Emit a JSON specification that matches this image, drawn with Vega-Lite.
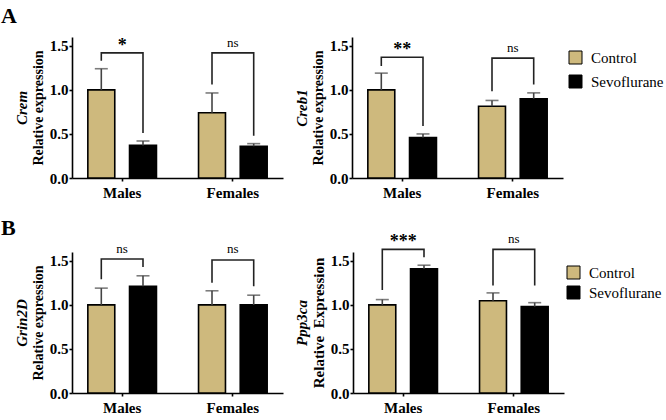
{
  "$schema": "https://vega.github.io/schema/vega-lite/v6.json",
  "background": "white",
  "padding": {"left": 1, "top": 4, "right": 0, "bottom": 0},
  "config": {
    "view": {"stroke": null},
    "font": "Liberation Serif",
    "text": {"font": "Liberation Serif", "color": "black"},
    "style": {"guide-label": {"font": "Liberation Serif"}, "guide-title": {"font": "Liberation Serif"}},
    "axis": {"grid": false, "domainColor": "black", "domainWidth": 1.6, "tickColor": "black", "tickWidth": 1.6, "tickSize": 3, "labelPadding": 1, "labelFont": "Liberation Serif", "labelFontWeight": "bold", "labelFontSize": 15, "labelColor": "black", "titleFont": "Liberation Serif", "titleFontWeight": "bold", "titleColor": "black"},
    "legend": {"orient": "right", "offset": 5, "symbolType": "square", "symbolSize": 169, "symbolStrokeColor": "black", "symbolStrokeWidth": 1, "labelFont": "Liberation Serif", "labelFontSize": 15, "labelColor": "black", "rowPadding": 7, "padding": 0, "labelOffset": 8, "titleFontSize": 11, "titlePadding": 2},
    "title": {"font": "Liberation Serif", "fontWeight": "bold", "fontSize": 22, "color": "black", "anchor": "start", "frame": "bounds"}
  },
  "spacing": 16,
  "resolve": {"scale": {"color": "independent"}, "legend": {"color": "independent"}},
  "vconcat": [
    {
      "title": {"text": "A", "dx": -13, "offset": 9},
      "spacing": 11,
      "hconcat": [
        {
          "width": 211, "height": 141,
          "data": {"values": [
            {"sex": "Males", "group": "Control", "mean": 1.0, "upper": 1.24},
            {"sex": "Males", "group": "Sevoflurane", "mean": 0.37, "upper": 0.42},
            {"sex": "Females", "group": "Control", "mean": 0.74, "upper": 0.965},
            {"sex": "Females", "group": "Sevoflurane", "mean": 0.36, "upper": 0.39}
          ]},
          "layer": [
            {"mark": {"type": "bar", "stroke": "black", "strokeWidth": 1.6},
             "encoding": {
               "x": {"field": "sex", "type": "nominal", "sort": ["Males", "Females"], "scale": {"paddingInner": 0.2, "paddingOuter": 0.053}, "axis": {"title": null, "labelAngle": 0, "labelFont": "Liberation Serif", "labelFontWeight": "bold", "labelFontSize": 15, "labelPadding": 4}},
               "xOffset": {"field": "group", "type": "nominal", "sort": ["Control", "Sevoflurane"], "scale": {"paddingInner": 0.354, "paddingOuter": 0.239}},
               "y": {"field": "mean", "type": "quantitative", "scale": {"domain": [0, 1.5]}, "axis": {"values": [0, 0.5, 1, 1.5], "format": ".1f", "labelFont": "Liberation Serif", "labelFontWeight": "bold", "labelFontSize": 15, "title": "Relative expression", "titleFontSize": 14, "titlePadding": 4}},
               "color": {"field": "group", "type": "nominal", "scale": {"domain": ["Control", "Sevoflurane"], "range": ["#CEB97D", "#000000"]}, "legend": {"title": "\u00a0", "labelFont": "Liberation Serif", "labelFontSize": 15}}
             }},
            {"mark": {"type": "rule", "color": "#444444", "strokeWidth": 1.6},
             "encoding": {
               "x": {"field": "sex", "type": "nominal", "sort": ["Males", "Females"]},
               "xOffset": {"field": "group", "type": "nominal", "sort": ["Control", "Sevoflurane"]},
               "y": {"field": "mean", "type": "quantitative", "axis": {"orient": "left", "title": "Crem", "titleFontStyle": "italic", "titleFontSize": 15, "labels": false, "ticks": false, "domain": false, "titlePadding": 43}},
               "y2": {"field": "upper"}
             }},
            {"mark": {"type": "tick", "color": "#444444", "thickness": 1.6, "size": 13},
             "encoding": {
               "x": {"field": "sex", "type": "nominal", "sort": ["Males", "Females"]},
               "xOffset": {"field": "group", "type": "nominal", "sort": ["Control", "Sevoflurane"]},
               "y": {"field": "upper", "type": "quantitative", "axis": null}
             }},
            {"data": {"values": [
               {"sex": "Males", "group": "Control", "v": 1.33, "ord": 1},
               {"sex": "Males", "group": "Control", "v": 1.42, "ord": 2},
               {"sex": "Males", "group": "Sevoflurane", "v": 1.42, "ord": 3},
               {"sex": "Males", "group": "Sevoflurane", "v": 0.51, "ord": 4},
               {"sex": "Females", "group": "Control", "v": 1.06, "ord": 1},
               {"sex": "Females", "group": "Control", "v": 1.42, "ord": 2},
               {"sex": "Females", "group": "Sevoflurane", "v": 1.42, "ord": 3},
               {"sex": "Females", "group": "Sevoflurane", "v": 0.48, "ord": 4}
             ]},
             "mark": {"type": "line", "color": "#222222", "strokeWidth": 1.6},
             "encoding": {
               "x": {"field": "sex", "type": "nominal", "sort": ["Males", "Females"]},
               "xOffset": {"field": "group", "type": "nominal", "sort": ["Control", "Sevoflurane"]},
               "y": {"field": "v", "type": "quantitative", "axis": null},
               "detail": {"field": "sex"},
               "order": {"field": "ord"}
             }},
            {"data": {"values": [{"sex": "Males", "v": 1.5, "t": "*"}]},
             "mark": {"type": "text", "font": "Liberation Serif", "fontSize": 18, "fontWeight": "bold", "baseline": "middle"},
             "encoding": {
               "x": {"field": "sex", "type": "nominal", "sort": ["Males", "Females"]},
               "y": {"field": "v", "type": "quantitative", "axis": null},
               "text": {"field": "t"}
             }},
            {"data": {"values": [{"sex": "Females", "v": 1.53, "t": "ns"}]},
             "mark": {"type": "text", "font": "Liberation Serif", "fontSize": 13, "baseline": "middle"},
             "encoding": {
               "x": {"field": "sex", "type": "nominal", "sort": ["Males", "Females"]},
               "y": {"field": "v", "type": "quantitative", "axis": null},
               "text": {"field": "t"}
             }}
          ],
          "resolve": {"axis": {"y": "independent"}}
        },
        {
          "width": 211, "height": 141,
          "data": {"values": [
            {"sex": "Males", "group": "Control", "mean": 1.0, "upper": 1.19},
            {"sex": "Males", "group": "Sevoflurane", "mean": 0.46, "upper": 0.5},
            {"sex": "Females", "group": "Control", "mean": 0.815, "upper": 0.88},
            {"sex": "Females", "group": "Sevoflurane", "mean": 0.9, "upper": 0.966}
          ]},
          "layer": [
            {"mark": {"type": "bar", "stroke": "black", "strokeWidth": 1.6},
             "encoding": {
               "x": {"field": "sex", "type": "nominal", "sort": ["Males", "Females"], "scale": {"paddingInner": 0.2, "paddingOuter": 0.053}, "axis": {"title": null, "labelAngle": 0, "labelFont": "Liberation Serif", "labelFontWeight": "bold", "labelFontSize": 15, "labelPadding": 4}},
               "xOffset": {"field": "group", "type": "nominal", "sort": ["Control", "Sevoflurane"], "scale": {"paddingInner": 0.354, "paddingOuter": 0.239}},
               "y": {"field": "mean", "type": "quantitative", "scale": {"domain": [0, 1.5]}, "axis": {"values": [0, 0.5, 1, 1.5], "format": ".1f", "labelFont": "Liberation Serif", "labelFontWeight": "bold", "labelFontSize": 15, "title": "Relative expression", "titleFontSize": 14, "titlePadding": 4}},
               "color": {"field": "group", "type": "nominal", "scale": {"domain": ["Control", "Sevoflurane"], "range": ["#CEB97D", "#000000"]}, "legend": {"title": "\u00a0", "labelFont": "Liberation Serif", "labelFontSize": 15}}
             }},
            {"mark": {"type": "rule", "color": "#444444", "strokeWidth": 1.6},
             "encoding": {
               "x": {"field": "sex", "type": "nominal", "sort": ["Males", "Females"]},
               "xOffset": {"field": "group", "type": "nominal", "sort": ["Control", "Sevoflurane"]},
               "y": {"field": "mean", "type": "quantitative", "axis": {"orient": "left", "title": "Creb1", "titleFontStyle": "italic", "titleFontSize": 15, "labels": false, "ticks": false, "domain": false, "titlePadding": 43}},
               "y2": {"field": "upper"}
             }},
            {"mark": {"type": "tick", "color": "#444444", "thickness": 1.6, "size": 13},
             "encoding": {
               "x": {"field": "sex", "type": "nominal", "sort": ["Males", "Females"]},
               "xOffset": {"field": "group", "type": "nominal", "sort": ["Control", "Sevoflurane"]},
               "y": {"field": "upper", "type": "quantitative", "axis": null}
             }},
            {"data": {"values": [
               {"sex": "Males", "group": "Control", "v": 1.27, "ord": 1},
               {"sex": "Males", "group": "Control", "v": 1.37, "ord": 2},
               {"sex": "Males", "group": "Sevoflurane", "v": 1.37, "ord": 3},
               {"sex": "Males", "group": "Sevoflurane", "v": 0.59, "ord": 4},
               {"sex": "Females", "group": "Control", "v": 0.985, "ord": 1},
               {"sex": "Females", "group": "Control", "v": 1.36, "ord": 2},
               {"sex": "Females", "group": "Sevoflurane", "v": 1.36, "ord": 3},
               {"sex": "Females", "group": "Sevoflurane", "v": 1.06, "ord": 4}
             ]},
             "mark": {"type": "line", "color": "#222222", "strokeWidth": 1.6},
             "encoding": {
               "x": {"field": "sex", "type": "nominal", "sort": ["Males", "Females"]},
               "xOffset": {"field": "group", "type": "nominal", "sort": ["Control", "Sevoflurane"]},
               "y": {"field": "v", "type": "quantitative", "axis": null},
               "detail": {"field": "sex"},
               "order": {"field": "ord"}
             }},
            {"data": {"values": [{"sex": "Males", "v": 1.45, "t": "**"}]},
             "mark": {"type": "text", "font": "Liberation Serif", "fontSize": 18, "fontWeight": "bold", "baseline": "middle"},
             "encoding": {
               "x": {"field": "sex", "type": "nominal", "sort": ["Males", "Females"]},
               "y": {"field": "v", "type": "quantitative", "axis": null},
               "text": {"field": "t"}
             }},
            {"data": {"values": [{"sex": "Females", "v": 1.48, "t": "ns"}]},
             "mark": {"type": "text", "font": "Liberation Serif", "fontSize": 13, "baseline": "middle"},
             "encoding": {
               "x": {"field": "sex", "type": "nominal", "sort": ["Males", "Females"]},
               "y": {"field": "v", "type": "quantitative", "axis": null},
               "text": {"field": "t"}
             }}
          ],
          "resolve": {"axis": {"y": "independent"}}
        }
      ]
    },
    {
      "title": {"text": "B", "dx": -13, "offset": -7},
      "spacing": 11,
      "hconcat": [
        {
          "width": 211, "height": 141,
          "data": {"values": [
            {"sex": "Males", "group": "Control", "mean": 1.0, "upper": 1.19},
            {"sex": "Males", "group": "Sevoflurane", "mean": 1.21, "upper": 1.33},
            {"sex": "Females", "group": "Control", "mean": 1.0, "upper": 1.16},
            {"sex": "Females", "group": "Sevoflurane", "mean": 1.0, "upper": 1.11}
          ]},
          "layer": [
            {"mark": {"type": "bar", "stroke": "black", "strokeWidth": 1.6},
             "encoding": {
               "x": {"field": "sex", "type": "nominal", "sort": ["Males", "Females"], "scale": {"paddingInner": 0.2, "paddingOuter": 0.053}, "axis": {"title": null, "labelAngle": 0, "labelFont": "Liberation Serif", "labelFontWeight": "bold", "labelFontSize": 15, "labelPadding": 4}},
               "xOffset": {"field": "group", "type": "nominal", "sort": ["Control", "Sevoflurane"], "scale": {"paddingInner": 0.354, "paddingOuter": 0.239}},
               "y": {"field": "mean", "type": "quantitative", "scale": {"domain": [0, 1.5]}, "axis": {"values": [0, 0.5, 1, 1.5], "format": ".1f", "labelFont": "Liberation Serif", "labelFontWeight": "bold", "labelFontSize": 15, "title": "Relative expression", "titleFontSize": 14, "titlePadding": 4}},
               "color": {"field": "group", "type": "nominal", "scale": {"domain": ["Control", "Sevoflurane"], "range": ["#CEB97D", "#000000"]}, "legend": {"title": null, "orient": "none", "legendX": 494, "legendY": 13, "rowPadding": 3, "labelFont": "Liberation Serif", "labelFontSize": 15}}
             }},
            {"mark": {"type": "rule", "color": "#444444", "strokeWidth": 1.6},
             "encoding": {
               "x": {"field": "sex", "type": "nominal", "sort": ["Males", "Females"]},
               "xOffset": {"field": "group", "type": "nominal", "sort": ["Control", "Sevoflurane"]},
               "y": {"field": "mean", "type": "quantitative", "axis": {"orient": "left", "title": "Grin2D", "titleFontStyle": "italic", "titleFontSize": 15, "labels": false, "ticks": false, "domain": false, "titlePadding": 43}},
               "y2": {"field": "upper"}
             }},
            {"mark": {"type": "tick", "color": "#444444", "thickness": 1.6, "size": 13},
             "encoding": {
               "x": {"field": "sex", "type": "nominal", "sort": ["Males", "Females"]},
               "xOffset": {"field": "group", "type": "nominal", "sort": ["Control", "Sevoflurane"]},
               "y": {"field": "upper", "type": "quantitative", "axis": null}
             }},
            {"data": {"values": [
               {"sex": "Males", "group": "Control", "v": 1.29, "ord": 1},
               {"sex": "Males", "group": "Control", "v": 1.52, "ord": 2},
               {"sex": "Males", "group": "Sevoflurane", "v": 1.52, "ord": 3},
               {"sex": "Males", "group": "Sevoflurane", "v": 1.43, "ord": 4},
               {"sex": "Females", "group": "Control", "v": 1.25, "ord": 1},
               {"sex": "Females", "group": "Control", "v": 1.51, "ord": 2},
               {"sex": "Females", "group": "Sevoflurane", "v": 1.51, "ord": 3},
               {"sex": "Females", "group": "Sevoflurane", "v": 1.21, "ord": 4}
             ]},
             "mark": {"type": "line", "color": "#222222", "strokeWidth": 1.6},
             "encoding": {
               "x": {"field": "sex", "type": "nominal", "sort": ["Males", "Females"]},
               "xOffset": {"field": "group", "type": "nominal", "sort": ["Control", "Sevoflurane"]},
               "y": {"field": "v", "type": "quantitative", "axis": null},
               "detail": {"field": "sex"},
               "order": {"field": "ord"}
             }},
            {"data": {"values": [{"sex": "Males", "v": 1.63, "t": "ns"}, {"sex": "Females", "v": 1.63, "t": "ns"}]},
             "mark": {"type": "text", "font": "Liberation Serif", "fontSize": 13, "baseline": "middle"},
             "encoding": {
               "x": {"field": "sex", "type": "nominal", "sort": ["Males", "Females"]},
               "y": {"field": "v", "type": "quantitative", "axis": null},
               "text": {"field": "t"}
             }}
          ],
          "resolve": {"axis": {"y": "independent"}}
        },
        {
          "width": 211, "height": 141,
          "data": {"values": [
            {"sex": "Males", "group": "Control", "mean": 1.0, "upper": 1.06},
            {"sex": "Males", "group": "Sevoflurane", "mean": 1.41, "upper": 1.45},
            {"sex": "Females", "group": "Control", "mean": 1.047, "upper": 1.136},
            {"sex": "Females", "group": "Sevoflurane", "mean": 0.98, "upper": 1.025}
          ]},
          "layer": [
            {"mark": {"type": "bar", "stroke": "black", "strokeWidth": 1.6},
             "encoding": {
               "x": {"field": "sex", "type": "nominal", "sort": ["Males", "Females"], "scale": {"paddingInner": 0.2, "paddingOuter": 0.053}, "axis": {"title": null, "labelAngle": 0, "labelFont": "Liberation Serif", "labelFontWeight": "bold", "labelFontSize": 15, "labelPadding": 4}},
               "xOffset": {"field": "group", "type": "nominal", "sort": ["Control", "Sevoflurane"], "scale": {"paddingInner": 0.354, "paddingOuter": 0.239}},
               "y": {"field": "mean", "type": "quantitative", "scale": {"domain": [0, 1.5]}, "axis": {"values": [0, 0.5, 1, 1.5], "format": ".1f", "labelFont": "Liberation Serif", "labelFontWeight": "bold", "labelFontSize": 15, "title": "Relative\u00a0\u00a0Expression", "titleFontSize": 15, "titlePadding": 4}},
               "color": {"field": "group", "type": "nominal", "scale": {"domain": ["Control", "Sevoflurane"], "range": ["#CEB97D", "#000000"]}, "legend": {"title": null, "orient": "none", "legendX": 494, "legendY": 13, "rowPadding": 3, "labelFont": "Liberation Serif", "labelFontSize": 15}}
             }},
            {"mark": {"type": "rule", "color": "#444444", "strokeWidth": 1.6},
             "encoding": {
               "x": {"field": "sex", "type": "nominal", "sort": ["Males", "Females"]},
               "xOffset": {"field": "group", "type": "nominal", "sort": ["Control", "Sevoflurane"]},
               "y": {"field": "mean", "type": "quantitative", "axis": {"orient": "left", "title": "Ppp3ca", "titleFontStyle": "italic", "titleFontSize": 15, "labels": false, "ticks": false, "domain": false, "titlePadding": 44}},
               "y2": {"field": "upper"}
             }},
            {"mark": {"type": "tick", "color": "#444444", "thickness": 1.6, "size": 13},
             "encoding": {
               "x": {"field": "sex", "type": "nominal", "sort": ["Males", "Females"]},
               "xOffset": {"field": "group", "type": "nominal", "sort": ["Control", "Sevoflurane"]},
               "y": {"field": "upper", "type": "quantitative", "axis": null}
             }},
            {"data": {"values": [
               {"sex": "Males", "group": "Control", "v": 1.17, "ord": 1},
               {"sex": "Males", "group": "Control", "v": 1.63, "ord": 2},
               {"sex": "Males", "group": "Sevoflurane", "v": 1.63, "ord": 3},
               {"sex": "Males", "group": "Sevoflurane", "v": 1.54, "ord": 4},
               {"sex": "Females", "group": "Control", "v": 1.22, "ord": 1},
               {"sex": "Females", "group": "Control", "v": 1.63, "ord": 2},
               {"sex": "Females", "group": "Sevoflurane", "v": 1.63, "ord": 3},
               {"sex": "Females", "group": "Sevoflurane", "v": 1.22, "ord": 4}
             ]},
             "mark": {"type": "line", "color": "#222222", "strokeWidth": 1.6},
             "encoding": {
               "x": {"field": "sex", "type": "nominal", "sort": ["Males", "Females"]},
               "xOffset": {"field": "group", "type": "nominal", "sort": ["Control", "Sevoflurane"]},
               "y": {"field": "v", "type": "quantitative", "axis": null},
               "detail": {"field": "sex"},
               "order": {"field": "ord"}
             }},
            {"data": {"values": [{"sex": "Males", "v": 1.71, "t": "***"}]},
             "mark": {"type": "text", "font": "Liberation Serif", "fontSize": 18, "fontWeight": "bold", "baseline": "middle"},
             "encoding": {
               "x": {"field": "sex", "type": "nominal", "sort": ["Males", "Females"]},
               "y": {"field": "v", "type": "quantitative", "axis": null},
               "text": {"field": "t"}
             }},
            {"data": {"values": [{"sex": "Females", "v": 1.75, "t": "ns"}]},
             "mark": {"type": "text", "font": "Liberation Serif", "fontSize": 13, "baseline": "middle"},
             "encoding": {
               "x": {"field": "sex", "type": "nominal", "sort": ["Males", "Females"]},
               "y": {"field": "v", "type": "quantitative", "axis": null},
               "text": {"field": "t"}
             }}
          ],
          "resolve": {"axis": {"y": "independent"}}
        }
      ]
    }
  ]
}
